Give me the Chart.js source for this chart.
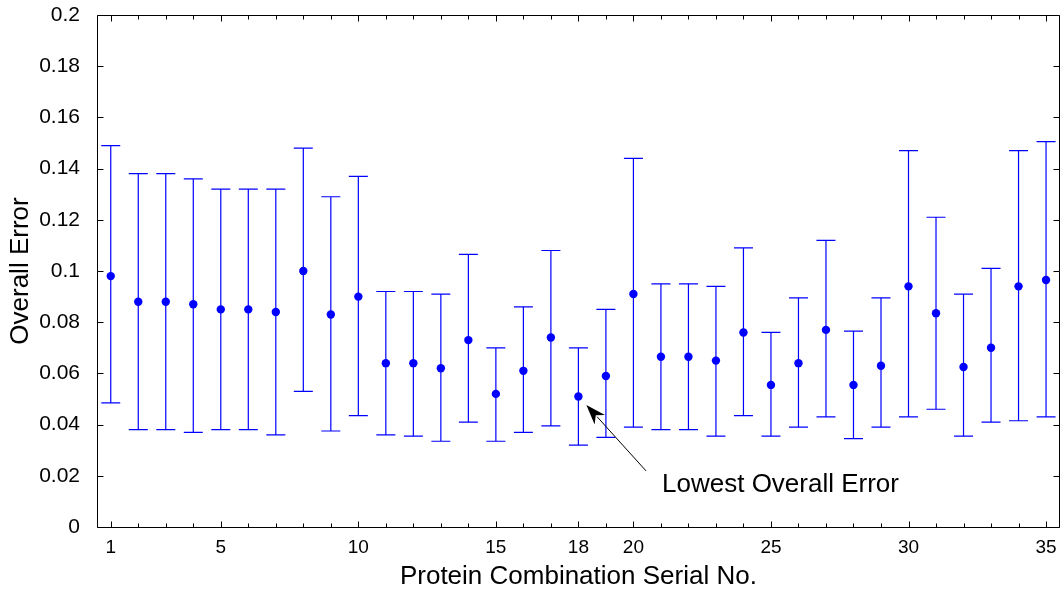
<!DOCTYPE html>
<html>
<head>
<meta charset="utf-8">
<script src="https://cdn.jsdelivr.net/npm/chart.js@4/dist/chart.umd.min.js"></script>
<style>
  html, body { margin: 0; padding: 0; background: #fff; }
  #wrap { width: 1064px; height: 592px; }
</style>
</head>
<body>
<div id="wrap"><canvas id="errChart" width="1064" height="592"></canvas></div>
<script>
const serialNos = [1, 2, 3, 4, 5, 6, 7, 8, 9, 10, 11, 12, 13, 14, 15, 16, 17, 18, 19, 20,
    21, 22, 23, 24, 25, 26, 27, 28, 29, 30, 31, 32, 33, 34, 35];
const meanErr = [0.098, 0.088, 0.088, 0.087, 0.085, 0.085, 0.084, 0.100, 0.083, 0.090,
    0.064, 0.064, 0.062, 0.073, 0.052, 0.061, 0.074, 0.051, 0.059, 0.091,
    0.0665, 0.0665, 0.065, 0.076, 0.0555, 0.064, 0.077, 0.0555, 0.063, 0.094,
    0.0835, 0.0625, 0.070, 0.094, 0.0965];
const upperErr = [0.149, 0.138, 0.138, 0.136, 0.132, 0.132, 0.132, 0.148, 0.129, 0.137,
    0.092, 0.092, 0.091, 0.1065, 0.070, 0.086, 0.108, 0.070, 0.085, 0.144,
    0.095, 0.095, 0.094, 0.109, 0.076, 0.0895, 0.112, 0.0765, 0.0895, 0.147,
    0.121, 0.091, 0.101, 0.147, 0.1505];
const lowerErr = [0.0485, 0.038, 0.038, 0.037, 0.038, 0.038, 0.036, 0.053, 0.0375, 0.0435,
    0.036, 0.0355, 0.0335, 0.041, 0.0335, 0.037, 0.0395, 0.032, 0.035, 0.039,
    0.038, 0.038, 0.0355, 0.0435, 0.0355, 0.039, 0.043, 0.0345, 0.039, 0.043,
    0.046, 0.0355, 0.041, 0.0415, 0.043];
const xTickLabels = [1, 5, 10, 15, 18, 20, 25, 30, 35];

// annotation, in data coordinates
const noteText = 'Lowest Overall Error';
const notePos = { x: 21.04, y: 0.0165 };
const arrowTail = { x: 20.46, y: 0.0219 };
const arrowTip = { x: 18.29, y: 0.0477 };

const FONT = '"Liberation Sans", Arial, sans-serif';
const BLUE = '#0000ff';

// error bars, inward ticks, box and the arrow note
const errPlugin = {
    id: 'errPlugin',
    beforeDatasetsDraw(chart) {
        const ctx = chart.ctx;
        const xs = chart.scales.x, ys = chart.scales.y;
        const cap = 9.5;
        ctx.save();
        ctx.strokeStyle = BLUE;
        ctx.lineWidth = 1.2;
        serialNos.forEach((n, i) => {
            const px = xs.getPixelForValue(n);
            const top = ys.getPixelForValue(upperErr[i]);
            const bot = ys.getPixelForValue(lowerErr[i]);
            ctx.beginPath();
            ctx.moveTo(px, top); ctx.lineTo(px, bot);
            ctx.moveTo(px - cap, top); ctx.lineTo(px + cap, top);
            ctx.moveTo(px - cap, bot); ctx.lineTo(px + cap, bot);
            ctx.stroke();
        });
        ctx.restore();
    },
    afterDraw(chart) {
        const ctx = chart.ctx;
        const a = chart.chartArea;
        const xs = chart.scales.x, ys = chart.scales.y;
        const L = Math.round(a.left) + 0.5, R = Math.round(a.right) - 0.5;
        const T = Math.round(a.top) + 0.5, B = Math.round(a.bottom) + 0.5;
        ctx.save();
        ctx.strokeStyle = '#000';
        ctx.lineWidth = 1;
        ctx.beginPath();
        ctx.rect(L, T, R - L, B - T);
        serialNos.forEach(n => {
            const px = Math.round(xs.getPixelForValue(n)) + 0.5;
            const len = xTickLabels.includes(n) ? 6 : 4;
            ctx.moveTo(px, B); ctx.lineTo(px, B - len);
            ctx.moveTo(px, T); ctx.lineTo(px, T + len);
        });
        ys.ticks.forEach(t => {
            const py = Math.round(ys.getPixelForValue(t.value)) + 0.5;
            ctx.moveTo(L, py); ctx.lineTo(L + 6, py);
            ctx.moveTo(R, py); ctx.lineTo(R - 6, py);
        });
        ctx.stroke();

        // arrow
        const tx = xs.getPixelForValue(arrowTail.x), ty = ys.getPixelForValue(arrowTail.y);
        const hx = xs.getPixelForValue(arrowTip.x), hy = ys.getPixelForValue(arrowTip.y);
        const ang = Math.atan2(hy - ty, hx - tx);
        const hl = 20, hw = 7;
        const c = Math.cos(ang), s = Math.sin(ang);
        ctx.beginPath();
        ctx.moveTo(tx, ty);
        ctx.lineTo(hx - c * hl * 0.8, hy - s * hl * 0.8);
        ctx.stroke();
        ctx.fillStyle = '#000';
        ctx.beginPath();
        ctx.moveTo(hx, hy);
        ctx.lineTo(hx - c * hl + s * hw, hy - s * hl - c * hw);
        ctx.lineTo(hx - c * hl * 0.7, hy - s * hl * 0.7);
        ctx.lineTo(hx - c * hl - s * hw, hy - s * hl + c * hw);
        ctx.closePath();
        ctx.fill();

        ctx.font = '26px ' + FONT;
        ctx.textAlign = 'left';
        ctx.textBaseline = 'middle';
        ctx.fillText(noteText, xs.getPixelForValue(notePos.x), ys.getPixelForValue(notePos.y));
        ctx.restore();
    }
};

new Chart(document.getElementById('errChart'), {
    type: 'scatter',
    data: {
        datasets: [{
            label: 'Overall Error',
            data: serialNos.map((n, i) => ({ x: n, y: meanErr[i] })),
            backgroundColor: BLUE,
            borderColor: BLUE,
            pointRadius: 4.2,
            pointBorderWidth: 0
        }]
    },
    options: {
        responsive: false,
        animation: false,
        layout: { padding: { left: 0, right: 1, top: 15, bottom: 0 } },
        plugins: { legend: { display: false }, tooltip: { enabled: false } },
        scales: {
            x: {
                type: 'linear',
                min: 0.5,
                max: 35.5,
                afterBuildTicks: scale => {
                    scale.ticks = serialNos.map(n => ({ value: n }));
                },
                afterFit: scale => {
                    scale.height = 65;
                    scale.paddingLeft = 0;
                    scale.paddingRight = 0;
                },
                grid: { display: false, drawTicks: false },
                border: { display: false },
                ticks: {
                    autoSkip: false,
                    maxRotation: 0,
                    padding: 9,
                    color: '#000',
                    font: { family: FONT, size: 19 },
                    callback: v => xTickLabels.includes(v) ? String(v) : ''
                },
                title: {
                    display: true,
                    text: 'Protein Combination Serial No.',
                    color: '#000',
                    font: { family: FONT, size: 26 },
                    padding: { top: 2, bottom: 0 }
                }
            },
            y: {
                min: 0,
                max: 0.2,
                afterFit: scale => {
                    scale.width = 97;
                    scale.paddingTop = 0;
                    scale.paddingBottom = 0;
                },
                grid: { display: false, drawTicks: false },
                border: { display: false },
                ticks: {
                    stepSize: 0.02,
                    padding: 17,
                    color: '#000',
                    font: { family: FONT, size: 21 },
                    callback: v => String(parseFloat(v.toFixed(2)))
                },
                title: {
                    display: true,
                    text: 'Overall Error',
                    color: '#000',
                    font: { family: FONT, size: 26 },
                    padding: { top: 5, bottom: 0 }
                }
            }
        }
    },
    plugins: [errPlugin]
});
</script>
</body>
</html>
